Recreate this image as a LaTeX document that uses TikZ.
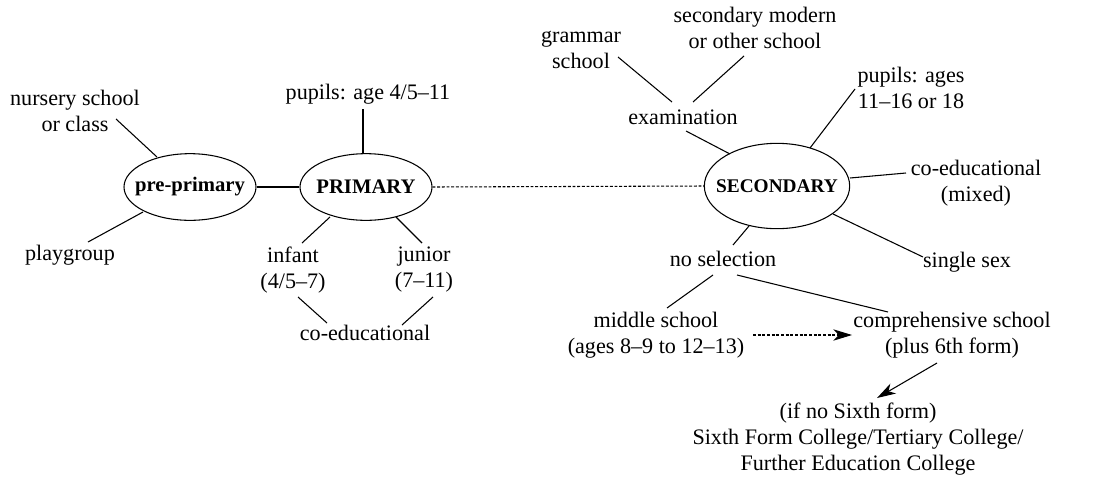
\documentclass[tikz,border=0pt]{standalone}
\usepackage{fontspec}
\setmainfont{Liberation Serif}
\usetikzlibrary{shapes.geometric,arrows.meta}
\begin{document}
\begin{tikzpicture}[x=0.75pt,y=-0.75pt,
  lbl/.style={align=center,inner sep=0pt,font=\fontsize{16.6}{19.5}\selectfont},
  oval/.style={ellipse,draw,line width=0.8pt,inner sep=0pt,font=\fontsize{15.5}{19.5}\selectfont\bfseries},
  conn/.style={line width=0.8pt},
  dots/.style={line width=0.8pt,dash pattern=on 2.2pt off 1.3pt},
  tip/.style={-{Stealth[length=14pt,width=8.5pt,inset=4pt]}}]
\useasboundingbox (0,0) rectangle (1116,483);
% ellipses
\node[oval,minimum width=99pt,minimum height=50pt] (pre) at (190,187) {\makebox[0pt]{pre-primary}};
\node[oval,minimum width=99pt,minimum height=50pt] (prim) at (366,187) {\makebox[0pt]{PRIMARY}};
\node[oval,minimum width=109pt,minimum height=64pt,font=\fontsize{14.5}{19.5}\selectfont\bfseries] (sec) at (777,186) {\makebox[0pt]{SECONDARY}};
% labels
\node[lbl] (nursery) at (75,111) {nursery school\\or class};
\node[lbl] (play) at (70,255) {playgroup};
\node[lbl] (pup1) at (368,94) {pupils: age 4/5--11};
\node[lbl] (inf) at (293,270) {infant\\(4/5--7)};
\node[lbl] (jun) at (424,270) {junior\\(7--11)};
\node[lbl] (coed1) at (365,333) {co-educational};
\node[lbl] (gram) at (581,50) {grammar\\school};
\node[lbl] (secmod) at (755,28) {secondary modern\\or other school};
\node[lbl] (exam) at (683,117) {examination};
\node[lbl] (pup2) at (911,88) {pupils: ages\\11--16 or 18};
\node[lbl] (coed2) at (976,183) {co-educational\\(mixed)};
\node[lbl] (single) at (967,262) {single sex};
\node[lbl] (nosel) at (723,259) {no selection};
\node[lbl] (mid) at (656,335) {middle school\\(ages 8--9 to 12--13)};
\node[lbl] (comp) at (952,335) {comprehensive school\\(plus 6th form)};
\node[lbl] (sixth) at (858,439) {(if no Sixth form)\\Sixth Form College/Tertiary College/\\Further Education College};
% connectors
\draw[conn] ([shift={(41,8)}]nursery.center) -- ([shift={(-33,-30)}]pre.center);
\draw[conn] ([shift={(18,-13)}]play.center) -- ([shift={(-47,25)}]pre.center);
\draw[conn] (pre.east) -- (prim.west);
\draw[conn] ([shift={(-5,15)}]pup1.center) -- ([shift={(-3,-33)}]prim.center);
\draw[conn] ([shift={(-36,30)}]prim.center) -- ([shift={(9,-27)}]inf.center);
\draw[conn] ([shift={(30,30)}]prim.center) -- ([shift={(-2,-27)}]jun.center);
\draw[conn] ([shift={(5,27)}]inf.center) -- ([shift={(-38,-10)}]coed1.center);
\draw[conn] ([shift={(9,27)}]jun.center) -- ([shift={(37,-8)}]coed1.center);
\draw[dots] (prim.east) -- (sec.west);
\draw[conn] ([shift={(37,7)}]gram.center) -- ([shift={(-11,-15)}]exam.center);
\draw[conn] ([shift={(-11,28)}]secmod.center) -- ([shift={(10,-15)}]exam.center);
\draw[conn] ([shift={(3,14)}]exam.center) -- ([shift={(-47,-32)}]sec.center);
\draw[conn] ([shift={(33,-38)}]sec.center) -- ([shift={(-56,1)}]pup2.center);
\draw[conn] ([shift={(73,-8)}]sec.center) -- ([shift={(-70,-10)}]coed2.center);
\draw[conn] ([shift={(56,28)}]sec.center) -- ([shift={(-44,-5)}]single.center);
\draw[conn] ([shift={(-28,40)}]sec.center) -- ([shift={(10,-14)}]nosel.center);
\draw[conn] ([shift={(-10,16)}]nosel.center) -- ([shift={(11,-27)}]mid.center);
\draw[conn] ([shift={(14,16)}]nosel.center) -- ([shift={(-64,-23)}]comp.center);
\draw[dots,tip] ([shift={(97,0)}]mid.center) -- ([shift={(-100,0)}]comp.center);
\draw[conn,tip] ([shift={(-15,28)}]comp.center) -- ([shift={(19,-41)}]sixth.center);
\end{tikzpicture}
\end{document}
